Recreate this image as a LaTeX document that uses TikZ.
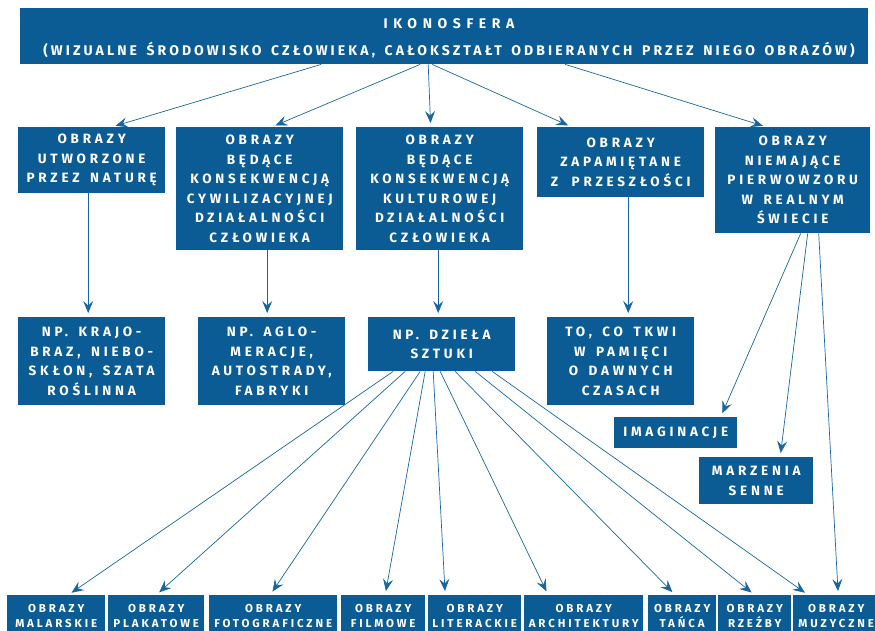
\documentclass[tikz,border=0pt]{standalone}
\usepackage{fontspec}
\usetikzlibrary{arrows.meta}
\newfontfamily\schemefont{Fira Sans}[LetterSpace=28, WordSpace=1.5]
\newfontfamily\schemefontwide{Fira Sans}[LetterSpace=40]
\newfontfamily\schemefonthead{Fira Sans}[LetterSpace=22, WordSpace=1.5]
\newfontfamily\schemefontsmall{Fira Sans}[LetterSpace=25, WordSpace=1.4]
\definecolor{schemeblue}{HTML}{0B5C94}
\definecolor{schemeline}{HTML}{1766A2}

\begin{document}
\begin{tikzpicture}[
  x=1pt,
  y=-1pt,
  box/.style={fill=schemeblue, text=white, inner sep=0pt, anchor=north west,
    align=center, font=\schemefont\bfseries\fontsize{13.5}{19.5}\selectfont},
  headtext/.style={text=white, inner sep=0pt, align=center,
    font=\schemefonthead\bfseries\fontsize{14}{27.5}\selectfont},
  smallbox/.style={box, font=\schemefontsmall\bfseries\fontsize{11.5}{15}\selectfont},
  link/.style={schemeline, line width=0.7pt,
    -{Stealth[length=12pt, width=10pt, inset=4.5pt]}, shorten >=4pt}
]
  % ---- page frame; the last row runs off the bottom edge ----------------
  \clip[use as bounding box] (0,0) rectangle (875,631);

  % ---- root ---------------------------------------------------------------
  \node[box, minimum width=848pt, minimum height=56pt] (iko) at (20,8) {};
  \node[headtext] (ikotext) at (449,38.5)
    {{\schemefontwide IKONOSFERA}\\(WIZUALNE ŚRODOWISKO CZŁOWIEKA, CAŁOKSZTAŁT ODBIERANYCH PRZEZ NIEGO OBRAZÓW)};

  % ---- second row ---------------------------------------------------------
  \node[box, minimum width=147pt, minimum height=66pt] (natura) at (18,127)
    {OBRAZY\\UTWORZONE\\PRZEZ NATURĘ};
  \node[box, minimum width=167pt, minimum height=123pt] (cywil) at (176,127)
    {OBRAZY\\BĘDĄCE\\KONSEKWENCJĄ\\CYWILIZACYJNEJ\\DZIAŁALNOŚCI\\CZŁOWIEKA};
  \node[box, minimum width=167pt, minimum height=123pt] (kultura) at (356,127)
    {OBRAZY\\BĘDĄCE\\KONSEKWENCJĄ\\KULTUROWEJ\\DZIAŁALNOŚCI\\CZŁOWIEKA};
  \node[box, minimum width=167pt, minimum height=70pt] (pamiec) at (537,127)
    {OBRAZY\\ZAPAMIĘTANE\\Z\enspace\enspace PRZESZŁOŚCI};
  \node[box, minimum width=155pt, minimum height=106pt] (wyobraz) at (715,127)
    {OBRAZY\\NIEMAJĄCE\\PIERWOWZORU\\W REALNYM\\ŚWIECIE};

  % ---- third row ----------------------------------------------------------
  \node[box, minimum width=147pt, minimum height=88pt] (krajobraz) at (18,317)
    {NP. KRAJO-\\BRAZ, NIEBO-\\SKŁON, SZATA\\ROŚLINNA};
  \node[box, minimum width=147pt, minimum height=88pt] (aglo) at (198,317)
    {NP. AGLO-\\MERACJE,\\AUTOSTRADY,\\FABRYKI};
  \node[box, minimum width=147pt, minimum height=54pt] (dziela) at (368,317)
    {NP. DZIEŁA\\SZTUKI};
  \node[box, minimum width=147pt, minimum height=88pt] (tkwi) at (547,317)
    {TO, CO TKWI\\W PAMIĘCI\\O DAWNYCH\\CZASACH};
  \node[box, minimum width=123pt, minimum height=31pt] (imag) at (614,417)
    {IMAGINACJE};
  \node[box, minimum width=114pt, minimum height=47pt] (sny) at (699,457)
    {MARZENIA\\SENNE};

  % ---- bottom row ---------------------------------------------------------
  \node[smallbox, minimum width=98pt,  minimum height=41pt] (malar) at (7,595)   {OBRAZY\\MALARSKIE};
  \node[smallbox, minimum width=96pt,  minimum height=41pt] (plakat) at (108,595) {OBRAZY\\PLAKATOWE};
  \node[smallbox, minimum width=128pt, minimum height=41pt] (foto) at (209,595)  {OBRAZY\\FOTOGRAFICZNE};
  \node[smallbox, minimum width=84pt,  minimum height=41pt] (film) at (341,595)  {OBRAZY\\FILMOWE};
  \node[smallbox, minimum width=93pt,  minimum height=41pt] (liter) at (428,595) {OBRAZY\\LITERACKIE};
  \node[smallbox, minimum width=119pt, minimum height=41pt] (archi) at (524,595) {OBRAZY\\ARCHITEKTURY};
  \node[smallbox, minimum width=68pt,  minimum height=41pt] (taniec) at (648,595) {OBRAZY\\TAŃCA};
  \node[smallbox, minimum width=73pt,  minimum height=41pt] (rzezba) at (718,595) {OBRAZY\\RZEŹBY};
  \node[smallbox, minimum width=86pt,  minimum height=41pt] (muzyka) at (793,595) {OBRAZY\\MUZYCZNE};

  % ---- root to second row -------------------------------------------------
  \draw[link] ([xshift=-123pt]iko.south) -- ([xshift=20pt]natura.north);
  \draw[link] ([xshift=-24pt]iko.south)  -- ([xshift=12pt]cywil.north);
  \draw[link] ([xshift=-16pt]iko.south)  -- ([xshift=-9pt]kultura.north);
  \draw[link] ([xshift=-12pt]iko.south)  -- ([xshift=-49pt]pamiec.north);
  \draw[link] ([xshift=121pt]iko.south)  -- ([xshift=-26pt]wyobraz.north);

  % ---- second row to examples ---------------------------------------------
  \draw[link] ([xshift=-3.5pt]natura.south)  -- ([xshift=-3.5pt]krajobraz.north);
  \draw[link] ([xshift=7.5pt]cywil.south)    -- ([xshift=-4.5pt]aglo.north);
  \draw[link] ([xshift=-1.5pt]kultura.south) -- ([xshift=-3.5pt]dziela.north);
  \draw[link] ([xshift=7.5pt]pamiec.south)   -- ([xshift=7.5pt]tkwi.north);
  \draw[link] ([xshift=8pt]wyobraz.south)    -- ([xshift=45pt]imag.north);
  \draw[link] ([xshift=15pt]wyobraz.south)   -- ([xshift=24pt]sny.north);
  \draw[link] ([xshift=26pt]wyobraz.south)   -- ([xshift=2pt]muzyka.north);

  % ---- works of art fan out -----------------------------------------------
  \draw[link] ([xshift=-48.5pt]dziela.south) -- ([xshift=12pt]malar.north);
  \draw[link] ([xshift=-36.5pt]dziela.south) -- (plakat.north);
  \draw[link] ([xshift=-21.5pt]dziela.south) -- ([xshift=-3pt]foto.north);
  \draw[link] ([xshift=-16.5pt]dziela.south) -- ([xshift=2pt]film.north);
  \draw[link] ([xshift=-8.5pt]dziela.south)  -- ([xshift=-29.5pt]liter.north);
  \draw[link] ([xshift=-1.5pt]dziela.south)  -- ([xshift=-35.5pt]archi.north);
  \draw[link] ([xshift=13.5pt]dziela.south)  -- ([xshift=-7pt]taniec.north);
  \draw[link] ([xshift=33.5pt]dziela.south)  -- (rzezba.north);
  \draw[link] ([xshift=50.5pt]dziela.south)  -- ([xshift=-28pt]muzyka.north);
\end{tikzpicture}
\end{document}
